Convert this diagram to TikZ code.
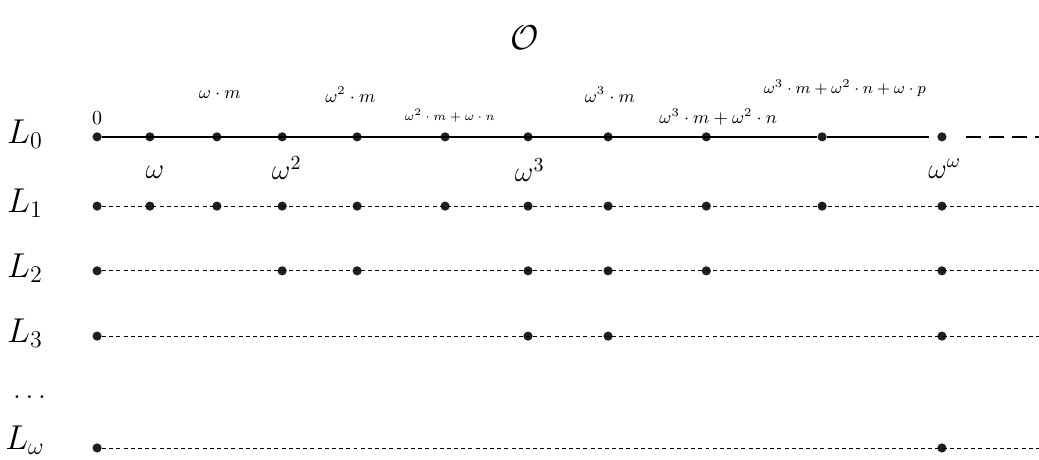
\documentclass[tikz,border=0pt]{standalone}
\usetikzlibrary{positioning}
\begin{document}
\begin{tikzpicture}[
    pt/.style={circle, fill=black!88, inner sep=0pt, minimum size=4.6pt},
    lvl/.style={font=\LARGE},
    ord/.style={font=\Large},
    sm/.style={font=\small},
    tn/.style={font=\fontsize{6.2}{7}\selectfont},
    mainline/.style={line width=0.9pt},
    extline/.style={line width=0.9pt, dash pattern=on 7.5pt off 4pt},
    rowline/.style={line width=0.4pt, dash pattern=on 2pt off 1.6pt}]
  \useasboundingbox (0,0) rectangle (18.3,-8.1);

  % the class of ordinals
  \node[font=\LARGE] (ttl) at (9.25,-0.67) {$\mathcal{O}$};

  % L_0: every point, solid up to omega^omega, dashed afterwards
  \foreach \x [count=\i from 0] in {1.71,2.64,3.82,4.97,6.29,7.84,9.30,10.71,12.44,14.48,16.59}
    \node[pt] (p0-\i) at (\x,-2.41) {};
  \coordinate (end0) at (18.3,-2.41);
  \draw[mainline] (p0-0) \foreach \i in {1,...,9} {-- (p0-\i)};
  \draw[mainline, shorten >=4pt] (p0-9) -- (p0-10);
  \draw[extline, shorten <=9.5pt] (p0-10) -- (end0);

  % names of the points
  \node[above=0pt of p0-0] (n0) {$0$};
  \node[sm] (nwm) at (3.87,-1.67) {$\omega\cdot m$};
  \node[sm] (nw2m) at (6.17,-1.67) {$\omega^2\cdot m$};
  \node[tn] (nw2mn) at (7.92,-2.03) {$\omega^2\cdot m+\omega\cdot n$};
  \node[sm] (nw3m) at (10.74,-1.67) {$\omega^3\cdot m$};
  \node[sm] (nw3mn) at (12.65,-2.06) {$\omega^3\cdot m+\omega^2\cdot n$};
  \node[font=\footnotesize] (nw3mnp) at (14.88,-1.55) {$\omega^3\cdot m+\omega^2\cdot n+\omega\cdot p$};

  \node[ord] (nw) at (2.73,-3.03) {$\omega$};
  \node[ord] (nw2) at (5.05,-2.96) {$\omega^2$};
  \node[ord] (nw3) at (9.33,-3.0) {$\omega^3$};
  \node[ord] (nww) at (16.64,-2.97) {$\omega^\omega$};

  % the levels below
  \node[lvl] (l0) at (0.44,-2.36) {$L_0$};
  \foreach \r/\y/\ly/\lab/\idx in {1/-3.63/-3.58/L_1/{1,2,3,4,5,6,7,8,9,10},
      2/-4.77/-4.72/L_2/{3,4,6,7,8,10}, 3/-5.92/-5.87/L_3/{6,7,10},
      w/-7.89/-7.76/L_\omega/{10}} {
    \node[lvl] (l\r) at (0.44,\ly) {$\lab$};
    \node[pt] (p\r-0) at (p0-0 |- 0,\y) {};
    \foreach \i in \idx
      \node[pt] (p\r-\i) at (p0-\i |- 0,\y) {};
    \coordinate (end\r) at (18.3,\y);
    \draw[rowline] (p\r-0) \foreach \i in \idx {-- (p\r-\i)} -- (end\r);
  }
  \node[font=\Large] (ldots) at (0.52,-7.0) {$\dots$};
\end{tikzpicture}
\end{document}
